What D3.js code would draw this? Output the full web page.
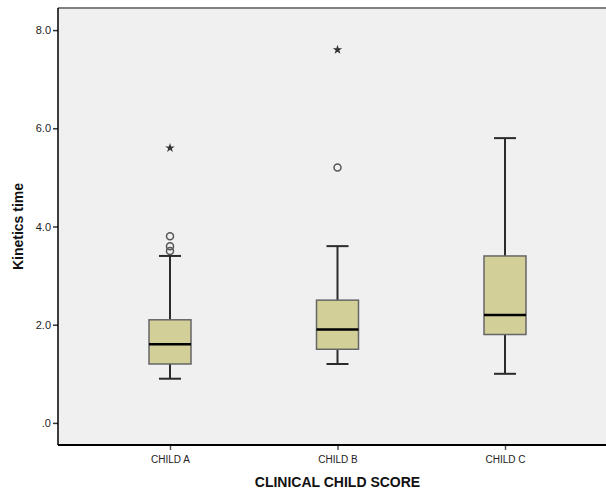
<!DOCTYPE html>
<html>
<head>
<meta charset="utf-8">
<script src="https://cdn.jsdelivr.net/npm/d3@7"></script>
<style>
  body { margin: 0; background: #fff; }
  svg { display: block; font-family: Arial, "Liberation Sans", sans-serif; }
</style>
</head>
<body>
<svg id="mysvg" width="606" height="490"></svg>
<script>
// box plot summaries
var categories = ["CHILD A", "CHILD B", "CHILD C"];
var whiskerLow = [0.9, 1.2, 1.0];
var q1 = [1.2, 1.5, 1.8];
var medians = [1.6, 1.9, 2.2];
var q3 = [2.1, 2.5, 3.4];
var whiskerHigh = [3.4, 3.6, 5.8];
// outliers (circles) and extremes (stars)
var outliers = [[3.8, 3.6, 3.5], [5.2], []];
var extremes = [[5.6], [7.6], []];
var yTicks = [0, 2, 4, 6, 8];

var svg = d3.select("svg"),
    margin = {top: 8, right: 0, bottom: 45, left: 58},
    width = +svg.attr("width") - margin.left - margin.right,
    height = +svg.attr("height") - margin.top - margin.bottom;

var boxes = categories.map(function(c, i) {
  return {cat: c, lo: whiskerLow[i], q1: q1[i], med: medians[i], q3: q3[i], hi: whiskerHigh[i],
          out: outliers[i], ext: extremes[i]};
});

var x = d3.scalePoint().domain(categories).range([112, 447]);
var y = d3.scaleLinear().domain([-0.45, 8.45]).range([height, 0]);

var g = svg.append("g")
    .attr("transform", "translate(" + margin.left + "," + margin.top + ")");

// plot background
g.append("rect")
    .attr("width", width)
    .attr("height", height)
    .attr("fill", "#f0f0f0");

var boxW = 42, capW = 22;

var bx = g.selectAll(".box")
  .data(boxes)
  .enter().append("g")
    .attr("class", "box")
    .attr("transform", function(d) { return "translate(" + x(d.cat) + ",0)"; });

// whiskers
bx.append("line")
    .attr("y1", function(d) { return y(d.hi); })
    .attr("y2", function(d) { return y(d.lo); })
    .attr("stroke", "#2b2b2b").attr("stroke-width", 2);
bx.append("line")
    .attr("x1", -capW / 2).attr("x2", capW / 2)
    .attr("y1", function(d) { return y(d.hi); })
    .attr("y2", function(d) { return y(d.hi); })
    .attr("stroke", "#2b2b2b").attr("stroke-width", 2);
bx.append("line")
    .attr("x1", -capW / 2).attr("x2", capW / 2)
    .attr("y1", function(d) { return y(d.lo); })
    .attr("y2", function(d) { return y(d.lo); })
    .attr("stroke", "#2b2b2b").attr("stroke-width", 2);

// box
bx.append("rect")
    .attr("x", -boxW / 2)
    .attr("width", boxW)
    .attr("y", function(d) { return y(d.q3); })
    .attr("height", function(d) { return y(d.q1) - y(d.q3); })
    .attr("fill", "#d3cf99")
    .attr("stroke", "#666")
    .attr("stroke-width", 1.5);

// median
bx.append("line")
    .attr("x1", -boxW / 2).attr("x2", boxW / 2)
    .attr("y1", function(d) { return y(d.med); })
    .attr("y2", function(d) { return y(d.med); })
    .attr("stroke", "#000").attr("stroke-width", 2.5);

// outliers
bx.selectAll(".out")
  .data(function(d) { return d.out; })
  .enter().append("circle")
    .attr("class", "out")
    .attr("cy", function(v) { return y(v); })
    .attr("r", 3.5)
    .attr("fill", "none")
    .attr("stroke", "#555")
    .attr("stroke-width", 1.5);

bx.selectAll(".ext")
  .data(function(d) { return d.ext; })
  .enter().append("path")
    .attr("class", "ext")
    .attr("transform", function(v) { return "translate(0," + y(v) + ")"; })
    .attr("d", d3.symbol().type(d3.symbolStar).size(28))
    .attr("fill", "#333");

// axes
g.append("g")
    .attr("class", "y axis")
    .call(d3.axisLeft(y).tickValues(yTicks).tickSize(5).tickPadding(2).tickSizeOuter(0)
      .tickFormat(function(d) { return d === 0 ? ".0" : d3.format(".1f")(d); }))
    .call(function(a) {
      a.select(".domain").remove();
      a.selectAll(".tick line").attr("stroke", "#333").attr("stroke-width", 1.5);
      a.selectAll("text").attr("font-size", "11px").attr("fill", "#222")
        .attr("font-family", "Arial, 'Liberation Sans', sans-serif");
    });

g.append("g")
    .attr("class", "x axis")
    .attr("transform", "translate(0," + height + ")")
    .call(d3.axisBottom(x).tickSize(5).tickPadding(6).tickSizeOuter(0))
    .call(function(a) {
      a.select(".domain").remove();
      a.selectAll(".tick line").attr("stroke", "#555").attr("stroke-width", 1.5);
      a.selectAll("text").attr("font-size", "10px").attr("fill", "#222")
        .attr("font-family", "Arial, 'Liberation Sans', sans-serif");
    });

// frame: grey top, black left and bottom
g.append("line")
    .attr("x1", 0).attr("x2", width)
    .attr("y1", 0).attr("y2", 0)
    .attr("stroke", "#808080")
    .attr("stroke-width", 2);
g.append("line")
    .attr("x1", 0).attr("x2", 0)
    .attr("y1", 0).attr("y2", height)
    .attr("stroke", "#000")
    .attr("stroke-width", 1.5);
g.append("line")
    .attr("x1", 0).attr("x2", width)
    .attr("y1", height).attr("y2", height)
    .attr("stroke", "#000")
    .attr("stroke-width", 2);

svg.append("text")
    .attr("text-anchor", "middle")
    .attr("transform", "translate(23," + (margin.top + height / 2) + ")rotate(-90)")
    .text("Kinetics time")
    .style("fill", "#111")
    .style("font-size", "14px")
    .style("font-weight", "bold");

svg.append("text")
    .attr("text-anchor", "middle")
    .attr("transform", "translate(" + (margin.left + x("CHILD B")) + ",487)")
    .text("CLINICAL CHILD SCORE")
    .style("fill", "#111")
    .style("font-size", "14px")
    .style("font-weight", "bold");
</script>
</body>
</html>
